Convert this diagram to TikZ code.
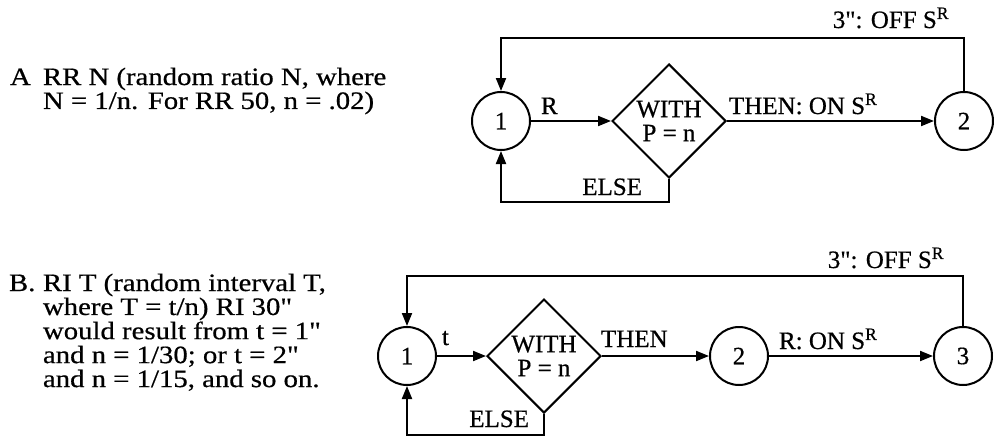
\documentclass[tikz,border=0pt]{standalone}
\usepackage{fontspec}
\setmainfont{Liberation Serif}[Ligatures=TeXOff,FakeBold=0.6]
\newfontfamily\sidefont{Liberation Serif}[Ligatures=TeXOff,FakeBold=0.6,FakeStretch=1.15]
\usetikzlibrary{shapes.geometric,arrows.meta}
\begin{document}
\begin{tikzpicture}[x=1pt,y=-1pt,line width=2pt,font=\fontsize{25}{24}\selectfont,
	state/.style={circle,draw,minimum size=58pt,inner sep=0pt},
	chance/.style={diamond,draw,minimum size=114pt,inner sep=0pt,align=center},
	lbl/.style={anchor=base west,inner sep=0pt},
	txt/.style={anchor=base west,inner sep=0pt,font=\sidefont\fontsize{25}{22}\selectfont},
	>={Triangle[length=13pt,width=10pt]}]
	\useasboundingbox (0,0) rectangle (994,437);
	\path (0,38) coordinate (Atop)
	(0,202) coordinate (Abot)
	(0,276) coordinate (Btop)
	(0,435) coordinate (Bbot);
	\node[state] (A1) at (501,121) {1};
	\node[chance] (Aw) at (669,121) {WITH\\P = n};
	\node[state] (A2) at (964,121) {2};
	\node[state] (B1) at (407,356) {1};
	\node[chance] (Bw) at (544,356) {WITH\\P = n};
	\node[state] (B2) at (739,356) {2};
	\node[state] (B3) at (963,356) {3};
	\draw[->] (A1)--(Aw);
	\draw[->] (Aw)--(A2);
	\draw[->] (A2.north)--(A2.north|-Atop)--(A1.north|-Atop)--(A1.north);
	\draw[->] (Aw.south)--(Aw.south|-Abot)--(A1.south|-Abot)--(A1.south);
	\draw[->] (B1)--(Bw);
	\draw[->] (Bw)--(B2);
	\draw[->] (B2)--(B3);
	\draw[->] (B3.north)--(B3.north|-Btop)--(B1.north|-Btop)--(B1.north);
	\draw[->] (Bw.south)--(Bw.south|-Bbot)--(B1.south|-Bbot)--(B1.south);
	\node[lbl] (Ar) at (540,114) {R};
	\node[lbl] (Athen) at (728,114) {THEN: ON S\textsuperscript{R}};
	\node[lbl,anchor=base east] (Aoff) at (950,28) {3": OFF S\textsuperscript{R}};
	\node[lbl,anchor=base east] (Aelse) at (643,195) {ELSE};
	\node[lbl] (Bt) at (441,345) {t};
	\node[lbl] (Bthen) at (600,347) {THEN};
	\node[lbl] (Bon) at (778,349) {R: ON S\textsuperscript{R}};
	\node[lbl,anchor=base east] (Boff) at (945,268) {3": OFF S\textsuperscript{R}};
	\node[lbl,anchor=base east] (Belse) at (530,427) {ELSE};
	\node[txt] (Atext) at (9,85) {\begin{tabular}[t]{@{}p{33pt}@{}l@{}}
		A&RR N (random ratio N, where\\
		&N = 1/n. For RR 50, n = .02)
	\end{tabular}};
	\node[txt] (Btext) at (8,291) {\begin{tabular}[t]{@{}p{34pt}@{}l@{}}
		B.&RI T (random interval T,\\
		&where T = t/n) RI 30"\\
		&would result from t = 1"\\
		&and n = 1/30; or t = 2"\\
		&and n = 1/15, and so on.
	\end{tabular}};
\end{tikzpicture}
\end{document}
